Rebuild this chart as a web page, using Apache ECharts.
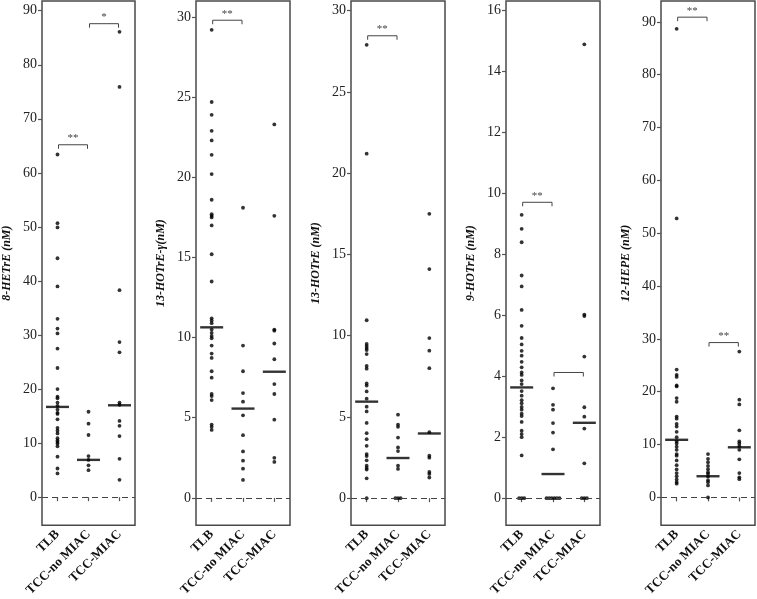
<!DOCTYPE html>
<html><head><meta charset="utf-8">
<script src="https://cdn.jsdelivr.net/npm/echarts@6/dist/echarts.min.js"></script>
<style>html,body{margin:0;padding:0;background:#fff}#c{width:757px;height:599px}</style>
</head><body><div id="c"></div>
<script>
const categories = ['TLB', 'TCC-no MIAC', 'TCC-MIAC'];

// Panel 1: 8-HETrE
const p1TLB = [63.4, 50.7, 49.9, 44.2, 39.0, 33.0, 31.2, 30.3, 27.5, 23.9, 20.0, 18.6, 18.3, 17.5, 16.9, 16.2, 15.6, 15.4, 14.4, 12.8, 12.3, 11.8, 10.9, 10.5, 10.2, 9.9, 9.4, 7.5, 5.3, 4.4];
const p1No = [15.8, 13.6, 11.5, 7.6, 6.9, 5.9, 5.0];
const p1MIAC = [86.1, 75.9, 38.3, 28.7, 26.8, 17.5, 17.1, 14.1, 13.2, 11.3, 7.1, 3.2];
const p1Med = [16.7, 6.9, 17.0];
const p1Br = [[0, 1, 65.2, '**'], [1, 2, 87.6, '*']];
const p1Ticks = [0, 10, 20, 30, 40, 50, 60, 70, 80, 90];

// Panel 2: 13-HOTrE-γ
const p2TLB = [29.2, 24.7, 23.9, 22.9, 22.3, 21.4, 20.2, 18.6, 17.7, 17.6, 17.5, 17.0, 15.2, 13.5, 11.2, 11.06, 10.9, 10.5, 10.3, 10.1, 9.96, 9.5, 9.0, 8.73, 7.9, 7.5, 6.48, 6.35, 6.1, 4.57, 4.43, 4.24];
const p2No = [18.1, 9.5, 7.9, 6.54, 6.0, 5.15, 3.91, 2.9, 2.32, 1.82, 1.12];
const p2MIAC = [23.3, 17.6, 10.5, 10.43, 9.63, 8.65, 7.1, 6.48, 4.88, 2.5, 2.24];
const p2Med = [10.64, 5.57, 7.87];
const p2Br = [[0, 1, 29.8, '**']];
const p2Ticks = [0, 5, 10, 15, 20, 25, 30];

// Panel 3: 13-HOTrE
const p3TLB = [27.9, 21.2, 10.95, 9.49, 9.36, 9.24, 9.12, 8.87, 8.14, 7.97, 7.06, 6.93, 6.57, 6.12, 5.63, 5.34, 4.63, 4.0, 3.63, 3.22, 2.71, 2.59, 2.33, 2.0, 1.86, 1.76, 1.22, 0];
const p3No = [5.14, 4.53, 4.39, 3.73, 3.12, 2.9, 2.0, 1.8, 0, 0, 0];
const p3MIAC = [17.5, 14.1, 9.85, 9.08, 8.0, 4.06, 2.61, 2.49, 1.61, 1.49, 1.27];
const p3Med = [5.94, 2.47, 3.98];
const p3Br = [[0, 1, 28.46, '**']];
const p3Ticks = [0, 5, 10, 15, 20, 25, 30];

// Panel 4: 9-HOTrE
const p4TLB = [9.29, 8.83, 8.39, 7.3, 6.94, 6.17, 5.65, 5.25, 5.04, 4.83, 4.67, 4.47, 4.29, 4.12, 4.04, 3.86, 3.74, 3.51, 3.36, 3.21, 3.11, 2.99, 2.9, 2.77, 2.69, 2.5, 2.21, 2.1, 2.0, 1.4, 0, 0, 0];
const p4No = [3.6, 3.06, 2.9, 2.46, 2.15, 1.6, 0, 0, 0, 0, 0, 0];
const p4MIAC = [14.88, 6.02, 5.97, 4.64, 2.98, 2.67, 2.28, 1.14, 0, 0, 0];
const p4Med = [3.63, 0.79, 2.47];
const p4Br = [[0, 1, 9.70, '**'], [1, 2, 4.12, '']];
const p4Ticks = [0, 2, 4, 6, 8, 10, 12, 14, 16];

// Panel 5: 12-HEPE
const p5TLB = [88.7, 52.8, 24.2, 23.2, 22.8, 21.2, 21.0, 18.8, 18.1, 15.3, 14.9, 13.9, 13.4, 12.4, 11.4, 10.6, 10.2, 9.6, 9.0, 8.2, 7.9, 7.0, 6.1, 5.3, 4.6, 4.0, 3.4, 2.9, 2.6];
const p5No = [8.2, 7.3, 6.65, 5.96, 5.33, 4.77, 4.45, 3.96, 3.26, 2.88, 2.26, 0];
const p5MIAC = [27.6, 18.5, 17.6, 12.7, 10.6, 10.2, 9.7, 9.0, 7.2, 4.6, 3.8, 3.45];
const p5Med = [10.9, 4.0, 9.48];
const p5Br = [[0, 1, 90.9, '**'], [1, 2, 29.3, '**']];
const p5Ticks = [0, 10, 20, 30, 40, 50, 60, 70, 80, 90];

const panels = [
  { name: '8-HETrE (nM)', groups: [p1TLB, p1No, p1MIAC], med: p1Med, br: p1Br, ticks: p1Ticks, min: -5.2, max: 91.8 },
  { name: '13-HOTrE-γ(nM)', groups: [p2TLB, p2No, p2MIAC], med: p2Med, br: p2Br, ticks: p2Ticks, min: -1.71, max: 31.0 },
  { name: '13-HOTrE (nM)', groups: [p3TLB, p3No, p3MIAC], med: p3Med, br: p3Br, ticks: p3Ticks, min: -1.67, max: 30.6 },
  { name: '9-HOTrE (nM)', groups: [p4TLB, p4No, p4MIAC], med: p4Med, br: p4Br, ticks: p4Ticks, min: -0.89, max: 16.3 },
  { name: '12-HEPE (nM)', groups: [p5TLB, p5No, p5MIAC], med: p5Med, br: p5Br, ticks: p5Ticks, min: -5.28, max: 93.96 }
];

const FONT = '"Liberation Serif", "Times New Roman", Times, serif';
const lefts = [41, 196, 351, 506, 661];
const grids = [], xAxes = [], yAxes = [], series = [];

panels.forEach((p, i) => {
  grids.push({ left: lefts[i], top: 1, width: 94, height: 527, show: true, borderColor: '#4a4a4a', borderWidth: 1.5, backgroundColor: 'transparent' });
  xAxes.push({
    type: 'category', gridIndex: i, data: categories,
    axisLine: { show: false },
    axisTick: { show: true, alignWithLabel: true, length: 4, lineStyle: { color: '#555', width: 1.2 } },
    axisLabel: { rotate: 45, interval: 0, fontFamily: FONT, fontWeight: 'bold', fontSize: 13, color: '#111', margin: 7 },
    splitLine: { show: false }
  });
  yAxes.push({
    type: 'value', gridIndex: i, min: p.min, max: p.max,
    name: p.name, nameLocation: 'middle', nameGap: 29, nameRotate: 90,
    nameTextStyle: { fontFamily: FONT, fontWeight: 'bold', fontStyle: 'italic', fontSize: 12, color: '#111' },
    axisLine: { show: false },
    axisTick: { show: true, length: 4, customValues: p.ticks, lineStyle: { color: '#555', width: 1.2 } },
    axisLabel: { customValues: p.ticks, fontFamily: FONT, fontSize: 14, color: '#222', margin: 5 },
    splitLine: { show: false }
  });
  const pts = [];
  p.groups.forEach((g, ci) => {
    const counts = {};
    g.forEach(v => { counts[v] = (counts[v] || 0) + 1; });
    const seen = {};
    g.forEach(v => {
      const n = counts[v]; const k = seen[v] || 0; seen[v] = k + 1;
      const off = n > 1 ? (k - (n - 1) / 2) * 2.6 : 0;
      pts.push({ value: [ci, v], symbolOffset: [off, 0] });
    });
  });
  series.push({
    type: 'scatter', xAxisIndex: i, yAxisIndex: i, data: pts,
    symbol: 'circle', symbolSize: 3.8, itemStyle: { color: '#000' }, z: 3,
    markLine: {
      silent: true, symbol: 'none', label: { show: false },
      lineStyle: { type: [6, 4], color: '#444', width: 1.2 },
      data: [{ yAxis: 0 }]
    }
  });
  series.push({
    type: 'scatter', xAxisIndex: i, yAxisIndex: i,
    data: p.med.map((m, ci) => [ci, m]),
    symbol: 'rect', symbolSize: [23, 2.4], itemStyle: { color: '#000' }, z: 4
  });
  series.push({
    type: 'custom', xAxisIndex: i, yAxisIndex: i,
    data: p.br.map(b => [b[0], b[1], b[2]]),
    encode: { x: [0, 1], y: 2 },
    z: 5, silent: true,
    renderItem: (params, api) => {
      const a = api.coord([api.value(0), api.value(2)]);
      const b = api.coord([api.value(1), api.value(2)]);
      const txt = p.br[params.dataIndex][3];
      return {
        type: 'group', children: [
          { type: 'polyline', shape: { points: [[a[0] + 1, a[1] + 4], [a[0] + 1, a[1]], [b[0] - 1, b[1]], [b[0] - 1, b[1] + 4]] },
            style: { stroke: '#444', lineWidth: 1, fill: null } },
          { type: 'text', x: (a[0] + b[0]) / 2, y: a[1] - 1,
            style: { text: txt, textAlign: 'center', textVerticalAlign: 'bottom', fontFamily: FONT, fontSize: 11, fill: '#444' } }
        ]
      };
    }
  });
});

const chart = echarts.init(document.getElementById('c'), null, { renderer: 'canvas' });
chart.setOption({ animation: false, backgroundColor: '#fff', grid: grids, xAxis: xAxes, yAxis: yAxes, series: series });
</script></body></html>
